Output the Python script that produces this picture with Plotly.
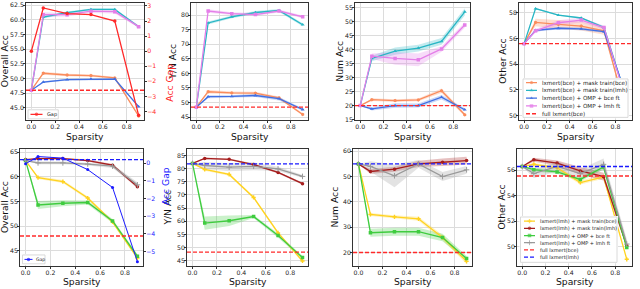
import plotly.graph_objects as go

W, H = 640, 289

sparsity = [0.0, 0.1, 0.3, 0.5, 0.7, 0.9]
x_ticks = [0.0, 0.2, 0.4, 0.6, 0.8]

# ---------------- top row : lxmert(bce) ----------------
top_labels = ["lxmert(bce) + mask train(bce)", "lxmert(bce) + mask train(lmh)",
              "lxmert(bce) + OMP + bce ft", "lxmert(bce) + OMP + lmh ft"]
top_ref_label = "full lxmert(bce)"

# Overall Acc
ov_b_mask_bce = [48.0, 50.9, 50.6, 50.5, 50.1, 43.6]
ov_b_mask_lmh = [48.0, 60.5, 61.25, 61.8, 61.8, 58.85]
ov_b_omp_bce = [48.0, 49.4, 49.8, 49.9, 49.9, 45.2]
ov_b_omp_lmh = [48.0, 60.9, 60.9, 61.5, 61.4, 58.85]
ov_b_full = 48.0
ov_b_gap = [0.0, 2.87, 2.5, 2.43, 2.0, -4.26]
# Y/N Acc
yn_b_mask_bce = [48.4, 53.7, 53.3, 53.2, 51.6, 45.9]
yn_b_mask_lmh = [48.4, 77.3, 79.4, 80.9, 81.6, 76.7]
yn_b_omp_bce = [48.4, 52.0, 52.1, 52.4, 51.3, 47.6]
yn_b_omp_lmh = [48.4, 81.4, 80.5, 80.2, 81.4, 79.4]
yn_b_full = 48.4
# Num Acc
nu_b_mask_bce = [20.0, 22.1, 21.8, 22.0, 25.3, 16.7]
nu_b_mask_lmh = [20.0, 36.9, 39.5, 40.6, 43.0, 53.6]
nu_b_omp_bce = [20.0, 18.8, 20.0, 20.0, 23.0, 18.5]
nu_b_omp_lmh = [20.0, 37.7, 36.9, 36.4, 40.3, 48.9]
nu_b_full = 20.0
# Other Acc
ot_b_mask_bce = [55.6, 57.25, 57.1, 56.97, 56.6, 50.13]
ot_b_mask_lmh = [55.6, 58.33, 57.82, 57.6, 56.85, 51.2]
ot_b_omp_bce = [55.6, 56.64, 56.8, 56.75, 56.54, 51.4]
ot_b_omp_lmh = [55.6, 56.6, 57.23, 57.44, 56.85, 51.0]
ot_b_full = 55.6

# band half-widths (std)
bd_ov_b = [[0, 0.25, 0.2, 0.2, 0.2, 0.2], [0, 0.25, 0.2, 0.15, 0.15, 0.2],
           [0, 0.15, 0.15, 0.15, 0.15, 0.2], [0, 0.4, 0.3, 0.3, 0.3, 0.25]]
bd_yn_b = [[0, 0.6, 0.5, 0.5, 0.5, 0.4], [0, 0.5, 0.5, 0.5, 0.5, 0.5],
           [0, 0.5, 0.4, 0.5, 0.6, 0.4], [0, 0.6, 0.5, 0.5, 0.5, 0.5]]
bd_nu_b = [[0, 0.5, 0.5, 0.5, 0.8, 0.5], [0, 1.0, 1.3, 1.2, 1.2, 1.3],
           [0, 0.6, 0.8, 0.7, 0.8, 0.5], [0, 1.0, 2.3, 2.3, 1.0, 1.0]]
bd_ot_b = [[0, 0.3, 0.35, 0.35, 0.3, 0.1], [0, 0.05, 0.05, 0.05, 0.1, 0.1],
           [0, 0.1, 0.1, 0.1, 0.1, 0.1], [0, 0.15, 0.2, 0.2, 0.15, 0.1]]

# ---------------- bottom row : lxmert(lmh) ----------------
bot_labels = ["lxmert(lmh) + mask train(bce)", "lxmert(lmh) + mask train(lmh)",
              "lxmert(lmh) + OMP + bce ft", "lxmert(lmh) + OMP + lmh ft"]
bot_ref_labels = ["full lxmert(bce)", "full lxmert(lmh)"]

ov_l_mask_bce = [63.3, 59.84, 59.04, 55.7, 50.86, 43.54]
ov_l_mask_lmh = [63.5, 63.7, 63.7, 63.3, 62.37, 57.98]
ov_l_omp_bce = [63.3, 54.3, 54.65, 54.8, 51.06, 43.9]
ov_l_omp_lmh = [63.3, 62.83, 62.83, 62.6, 62.17, 58.38]
ov_l_full_bce = 48.0
ov_l_full_lmh = 63.5
ov_l_gap = [-0.04, 0.37, 0.28, -0.37, -1.38, -5.58]

yn_l_mask_bce = [82.0, 79.7, 77.8, 69.05, 55.55, 44.9]
yn_l_mask_lmh = [82.0, 83.9, 83.55, 81.55, 78.55, 74.3]
yn_l_omp_bce = [82.0, 59.3, 60.2, 61.8, 54.55, 46.2]
yn_l_omp_lmh = [82.0, 81.2, 80.55, 80.9, 79.9, 77.05]
yn_l_full_bce = 48.3
yn_l_full_lmh = 81.8

nu_l_mask_bce = [55.0, 35.0, 34.1, 33.3, 25.9, 16.5]
nu_l_mask_lmh = [55.0, 52.0, 52.9, 55.0, 55.65, 56.3]
nu_l_omp_bce = [55.0, 27.8, 28.2, 28.2, 25.9, 17.6]
nu_l_omp_lmh = [55.0, 54.0, 50.3, 55.0, 50.0, 52.65]
nu_l_full_bce = 20.0
nu_l_full_lmh = 55.0

ot_l_mask_bce = [56.3, 56.47, 56.2, 55.04, 55.48, 49.0]
ot_l_mask_lmh = [56.3, 56.83, 56.57, 55.95, 55.5, 50.06]
ot_l_omp_bce = [56.3, 56.05, 55.87, 55.28, 56.26, 49.93]
ot_l_omp_lmh = [56.3, 55.74, 56.3, 55.74, 56.47, 50.2]
ot_l_full_bce = 55.55
ot_l_full_lmh = 56.3

bd_ov_l = [[0, 0.3, 0.3, 0.3, 0.3, 0.3], [0, 0.15, 0.15, 0.2, 0.25, 0.3],
           [0, 0.8, 0.6, 0.4, 0.4, 0.4], [0, 0.3, 0.3, 0.3, 0.4, 0.5]]
bd_yn_l = [[0, 0.5, 0.5, 0.5, 0.6, 0.5], [0, 0.3, 0.3, 0.4, 0.4, 0.4],
           [0, 2.5, 2.0, 0.6, 0.8, 0.6], [0, 1.3, 1.5, 1.5, 0.8, 0.5]]
bd_nu_l = [[0, 0.6, 0.6, 0.8, 1.0, 1.0], [0, 1.0, 1.0, 1.2, 1.5, 1.5],
           [0, 1.6, 1.6, 1.6, 1.5, 1.0], [0, 2.0, 4.5, 1.5, 1.8, 1.5]]
bd_ot_l = [[0, 0.1, 0.15, 0.15, 0.15, 0.1], [0, 0.15, 0.2, 0.3, 0.3, 0.2],
           [0, 0.15, 0.15, 0.15, 0.2, 0.15], [0, 0.35, 0.4, 0.35, 0.45, 0.4]]

# ---------------- style ----------------
top_colors = ["#fa8c5c", "#27b6c4", "#3f6fe3", "#e47fe8"]
top_markers = ["hexagon", "triangle-up", "triangle-up", "square"]
bot_colors = ["#ffd21f", "#a51d1d", "#3fcc3f", "#9a9a9a"]
bot_markers = ["cross", "circle", "square", "cross-thin"]
RED = "#ff2a2a"
BLUE = "#1a1aff"
FONT = "DejaVu Sans"
TICK_FS = 6.2
TITLE_FS = 9.2


def px(x):
    return x / W


def py(y):
    return 1 - y / H


def rgba(hexc, a):
    h = hexc.lstrip("#")
    return "rgba(%d,%d,%d,%.2f)" % (int(h[0:2], 16), int(h[2:4], 16), int(h[4:6], 16), a)


panels = [
    dict(xd=(26, 144), yd=(1, 120), ser=[ov_b_mask_bce, ov_b_mask_lmh, ov_b_omp_bce, ov_b_omp_lmh],
         bd=bd_ov_b, top=True, refs=[(ov_b_full, RED)], yr=(42.86, 62.89),
         yt=[45.0, 47.5, 50.0, 52.5, 55.0, 57.5, 60.0, 62.5], fmt=".1f", title="Overall Acc", tx=4.5),
    dict(xd=(191, 308), yd=(1, 120), ser=[yn_b_mask_bce, yn_b_mask_lmh, yn_b_omp_bce, yn_b_omp_lmh],
         bd=bd_yn_b, top=True, refs=[(yn_b_full, RED)], yr=(43.88, 84.16),
         yt=[45, 50, 55, 60, 65, 70, 75, 80], fmt="d", title="Y/N Acc", tx=173),
    dict(xd=(355, 470), yd=(1, 120), ser=[nu_b_mask_bce, nu_b_mask_lmh, nu_b_omp_bce, nu_b_omp_lmh],
         bd=bd_nu_b, top=True, refs=[(nu_b_full, RED)], yr=(14.7, 56.77),
         yt=[15, 20, 25, 30, 35, 40, 45, 50, 55], fmt="d", title="Num Acc", tx=340),
    dict(xd=(519, 632), yd=(1, 120), ser=[ot_b_mask_bce, ot_b_mask_lmh, ot_b_omp_bce, ot_b_omp_lmh],
         bd=bd_ot_b, top=True, refs=[(ot_b_full, RED)], yr=(49.62, 58.77),
         yt=[50, 52, 54, 56, 58], fmt="d", title="Other Acc", tx=503),
    dict(xd=(20, 143), yd=(149, 268), ser=[ov_l_mask_bce, ov_l_mask_lmh, ov_l_omp_bce, ov_l_omp_lmh],
         bd=bd_ov_l, top=False, refs=[(ov_l_full_bce, RED), (ov_l_full_lmh, BLUE)], yr=(41.86, 65.66),
         yt=[45, 50, 55, 60, 65], fmt="d", title="Overall Acc", tx=4.5),
    dict(xd=(187, 308), yd=(149, 268), ser=[yn_l_mask_bce, yn_l_mask_lmh, yn_l_omp_bce, yn_l_omp_lmh],
         bd=bd_yn_l, top=False, refs=[(yn_l_full_bce, RED), (yn_l_full_lmh, BLUE)], yr=(42.88, 87.5),
         yt=[45, 50, 55, 60, 65, 70, 75, 80, 85], fmt="d", title="Y/N Acc", tx=168),
    dict(xd=(353, 472), yd=(149, 268), ser=[nu_l_mask_bce, nu_l_mask_lmh, nu_l_omp_bce, nu_l_omp_lmh],
         bd=bd_nu_l, top=False, refs=[(nu_l_full_bce, RED), (nu_l_full_lmh, BLUE)], yr=(14.55, 60.9),
         yt=[20, 30, 40, 50, 60], fmt="d", title="Num Acc", tx=335),
    dict(xd=(517, 632), yd=(149, 268), ser=[ot_l_mask_bce, ot_l_mask_lmh, ot_l_omp_bce, ot_l_omp_lmh],
         bd=bd_ot_l, top=False, refs=[(ot_l_full_bce, RED), (ot_l_full_lmh, BLUE)], yr=(48.45, 57.68),
         yt=[50, 52, 54, 56], fmt="d", title="Other Acc", tx=502),
]

fig = go.Figure()
layout = dict(width=W, height=H, margin=dict(l=0, r=0, t=0, b=0), showlegend=False,
              paper_bgcolor="white", plot_bgcolor="white",
              font=dict(family=FONT, size=TICK_FS, color="#222"))
annotations = []
shapes = []

axis_common = dict(showline=True, mirror=True, linecolor="#333", linewidth=0.8,
                   ticks="outside", ticklen=2, tickwidth=0.8, tickcolor="#333",
                   showgrid=True, gridcolor="#dcdcdc", gridwidth=0.8, zeroline=False,
                   ticklabelstandoff=-2,
                   tickfont=dict(family=FONT, size=TICK_FS, color="#222"))

for k, p in enumerate(panels, start=1):
    xn = "xaxis" if k == 1 else "xaxis%d" % k
    yn = "yaxis" if k == 1 else "yaxis%d" % k
    xr = "x" if k == 1 else "x%d" % k
    yr = "y" if k == 1 else "y%d" % k
    layout[xn] = dict(axis_common, domain=[px(p["xd"][0]), px(p["xd"][1])], anchor=yr,
                      range=[-0.045, 0.945], tickvals=x_ticks, tickformat=".1f")
    layout[yn] = dict(axis_common, domain=[py(p["yd"][1]), py(p["yd"][0])], anchor=xr,
                      range=list(p["yr"]), tickvals=p["yt"], tickformat=p["fmt"])
    colors = top_colors if p["top"] else bot_colors
    markers = top_markers if p["top"] else bot_markers
    # bands
    for vals, bd, c in zip(p["ser"], p["bd"], colors):
        up = [v + b for v, b in zip(vals, bd)]
        lo = [v - b for v, b in zip(vals, bd)]
        fig.add_trace(go.Scatter(x=sparsity + sparsity[::-1], y=up + lo[::-1], fill="toself",
                                 fillcolor=rgba(c, 0.28), line=dict(width=0), mode="lines",
                                 hoverinfo="skip", xaxis=xr, yaxis=yr))
    # lines
    for vals, c, m in zip(p["ser"], colors, markers):
        msize = 3.5
        mline = dict(width=0)
        if m == "cross-thin":
            mline = dict(width=1, color=c)
            msize = 4
        fig.add_trace(go.Scatter(x=sparsity, y=vals, mode="lines+markers",
                                 line=dict(color=c, width=1.3),
                                 marker=dict(symbol=m, size=msize, color=c, line=mline),
                                 xaxis=xr, yaxis=yr))
    # reference lines
    for val, c in p["refs"]:
        shapes.append(dict(type="line", xref="%s domain" % xr, yref=yr, x0=0, x1=1, y0=val, y1=val,
                           line=dict(color=c, width=1.3, dash="4px,2px"), layer="above"))
    # titles
    annotations.append(dict(text=p["title"], x=px(p["tx"]), y=py((p["yd"][0] + p["yd"][1]) / 2),
                            xref="paper", yref="paper", showarrow=False, textangle=-90,
                            font=dict(family=FONT, size=TITLE_FS, color="#111"),
                            xanchor="center", yanchor="middle"))
    annotations.append(dict(text="Sparsity", x=px((p["xd"][0] + p["xd"][1]) / 2),
                            y=py(136 if p["top"] else 283), xref="paper", yref="paper",
                            showarrow=False, font=dict(family=FONT, size=TITLE_FS, color="#111"),
                            xanchor="center", yanchor="middle"))

# secondary gap axes
layout["yaxis9"] = dict(overlaying="y", side="right", anchor="x", range=[-4.59, 3.2],
                        tickvals=[-4, -3, -2, -1, 0, 1, 2, 3], showgrid=False, zeroline=False,
                        ticks="outside", ticklen=2, tickwidth=0.8, tickcolor="#333",
                        showline=True, linecolor="#333", linewidth=0.8, ticklabelstandoff=-1,
                        tickfont=dict(family=FONT, size=TICK_FS, color=RED))
layout["yaxis10"] = dict(overlaying="y5", side="right", anchor="x5", range=[-5.84, 0.8],
                         tickvals=[-5, -4, -3, -2, -1, 0], showgrid=False, zeroline=False,
                         ticks="outside", ticklen=2, tickwidth=0.8, tickcolor="#333",
                         showline=True, linecolor="#333", linewidth=0.8, ticklabelstandoff=-1,
                         tickfont=dict(family=FONT, size=TICK_FS, color=BLUE))
fig.add_trace(go.Scatter(x=sparsity, y=ov_b_gap, mode="lines+markers", line=dict(color=RED, width=1.3),
                         marker=dict(symbol="circle", size=3.5, color=RED), xaxis="x", yaxis="y9"))
fig.add_trace(go.Scatter(x=sparsity, y=ov_l_gap, mode="lines+markers", line=dict(color=BLUE, width=1),
                         marker=dict(symbol="circle", size=3, color=BLUE), xaxis="x5", yaxis="y10"))
annotations.append(dict(text="Acc Gap", x=px(162.5), y=py(60.5), xref="paper", yref="paper",
                        showarrow=False, textangle=-90, font=dict(family=FONT, size=TITLE_FS, color=RED)))
annotations.append(dict(text="Acc Gap", x=px(158), y=py(208.5), xref="paper", yref="paper",
                        showarrow=False, textangle=-90, font=dict(family=FONT, size=TITLE_FS, color=BLUE)))


# ---------------- manual compact legends ----------------
def add_legend(n, box, entries, fsize, first_y, step, line_x, text_x):
    x0, y0, x1, y1 = box
    w, h = x1 - x0, y1 - y0
    xa, ya = "x%d" % n, "y%d" % n
    layout["xaxis%d" % n] = dict(domain=[px(x0 - 1), px(x1 + 1)], range=[-1, w + 1], visible=False,
                                 anchor=ya, fixedrange=True)
    layout["yaxis%d" % n] = dict(domain=[py(y1 + 1), py(y0 - 1)], range=[h + 1, -1], visible=False,
                                 anchor=xa, fixedrange=True)
    fig.add_trace(go.Scatter(x=[0, w, w, 0, 0], y=[0, 0, h, h, 0], mode="lines", fill="toself",
                             fillcolor="rgba(255,255,255,0.85)", line=dict(color="#d0d0d0", width=0.8),
                             hoverinfo="skip", xaxis=xa, yaxis=ya))
    for i, (label, c, m, dash, lw) in enumerate(entries):
        yc = first_y + i * step
        xm = (line_x[0] + line_x[1]) / 2
        fig.add_trace(go.Scatter(x=[line_x[0], xm, line_x[1]], y=[yc, yc, yc],
                                 mode="lines+markers" if m else "lines",
                                 line=dict(color=c, width=lw, dash=dash),
                                 marker=dict(symbol=m or "circle", size=[0, 3.5, 0], color=c,
                                             line=dict(width=1 if m == "cross-thin" else 0, color=c)),
                                 hoverinfo="skip", xaxis=xa, yaxis=ya))
        annotations.append(dict(text=label, x=text_x, y=yc, xref=xa, yref=ya, showarrow=False,
                                xanchor="left", yanchor="middle",
                                font=dict(family=FONT, size=fsize, color="#222")))


add_legend(11, (28, 109.3, 58.3, 118.5), [("Gap", RED, "circle", "solid", 1.3)], 5.0,
           4.6, 0, (2.5, 14.5), 16.5)
add_legend(12, (523, 78, 628, 117),
           [(top_labels[i], top_colors[i], top_markers[i], "solid", 1.3) for i in range(4)]
           + [(top_ref_label, RED, None, "4px,2px", 1.3)], 5.6, 3.7, 7.9, (3, 14), 17)
add_legend(13, (22.5, 256.5, 45, 265.5), [("Gap", BLUE, "circle", "solid", 1)], 4.6,
           4.5, 0, (2, 10), 11.5)
add_legend(14, (520.5, 218, 617, 264),
           [(bot_labels[i], bot_colors[i], bot_markers[i], "solid", 1.3) for i in range(4)]
           + [(bot_ref_labels[0], RED, None, "4px,2px", 1.3), (bot_ref_labels[1], BLUE, None, "4px,2px", 1.3)],
           5.0, 4.2, 7.3, (3.5, 14.5), 17)

layout["annotations"] = annotations
layout["shapes"] = shapes
fig.update_layout(**layout)
fig.write_html("out.html", config={"displayModeBar": False},
               post_script="document.body.style.margin='0px';")
